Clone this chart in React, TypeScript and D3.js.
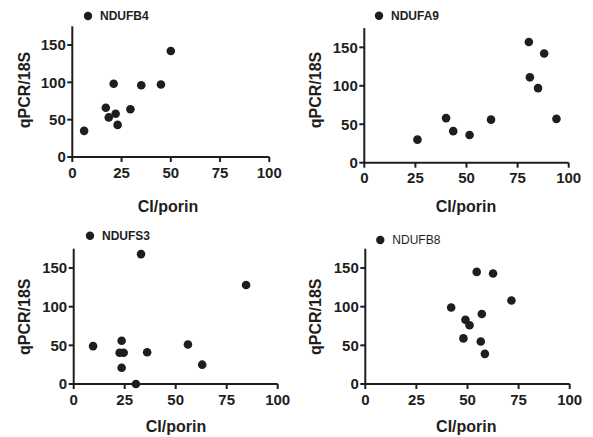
import React from "react";
import * as d3 from "d3";

const genes = ["NDUFB4", "NDUFA9", "NDUFS3", "NDUFB8"];

const ndufb4X = [6, 17, 18.5, 21, 22, 23, 29.5, 35, 45, 50];
const ndufb4Y = [35, 66, 53, 98, 58, 43, 64, 96, 97, 142];

const ndufa9X = [26, 40, 43.5, 51.5, 62, 80.5, 81, 85, 88, 94];
const ndufa9Y = [30, 58, 41, 36, 56, 157, 111, 97, 142, 57];

const ndufs3X = [9.5, 23.5, 22.5, 24.5, 23.5, 30.5, 33, 36, 56, 63, 84.5];
const ndufs3Y = [49, 56, 40.5, 40.5, 21, 0, 168, 41, 51, 25, 128];

const ndufb8X = [42, 48, 49, 51, 54.5, 56.5, 57, 58.5, 62.5, 71.5];
const ndufb8Y = [99, 59, 83, 76, 145, 55, 90.5, 39, 143, 108];

const xTicks = [0, 25, 50, 75, 100];
const yTicks = [0, 50, 100, 150];
const xDomain = [0, 100];
const yDomain = [0, 175];
const xTitle = "CI/porin";
const yTitle = "qPCR/18S";

const seriesX = [ndufb4X, ndufa9X, ndufs3X, ndufb8X];
const seriesY = [ndufb4Y, ndufa9Y, ndufs3Y, ndufb8Y];

// layout (pixel geometry of each panel)
const layouts = [
  { x0: 72.3, x1: 269.3, yb: 157, yt: 26.3, legX: 88, legY: 16, legW: "bold", ttlY: 211.5, ttlX: 168, yTtlX: 30, yTtlY: 90 },
  { x0: 364.3, x1: 568.7, yb: 162.7, yt: 28.1, legX: 379, legY: 15.7, legW: "bold", ttlY: 211.5, ttlX: 466, yTtlX: 321.3, yTtlY: 90 },
  { x0: 73.7, x1: 277.7, yb: 384, yt: 248.7, legX: 90, legY: 235.7, legW: "bold", ttlY: 431.5, ttlX: 176, yTtlX: 30, yTtlY: 316.7 },
  { x0: 365.3, x1: 569.7, yb: 384, yt: 248.7, legX: 380.3, legY: 240, legW: "normal", ttlY: 431.5, ttlX: 466.3, yTtlX: 321.3, yTtlY: 316.7 },
];

const ink = "#1e1e1e";
const font = "'Liberation Sans', Arial, Helvetica, sans-serif";

function Panel({ i }: { i: number }) {
  const L = layouts[i];
  const x = d3.scaleLinear().domain(xDomain).range([L.x0, L.x1]);
  const y = d3.scaleLinear().domain(yDomain).range([L.yb, L.yt]);
  const xs = seriesX[i];
  const ys = seriesY[i];
  return (
    <g>
      {/* legend */}
      <circle cx={L.legX} cy={L.legY} r={4.2} fill={ink} />
      <text x={L.legX + 12} y={L.legY + 4.3} fontSize={12} fontWeight={L.legW} fill={ink} fontFamily={font}>
        {genes[i]}
      </text>
      {/* axes */}
      <line x1={x(0)} x2={x(0)} y1={y(yDomain[1])} y2={y(0) + 1} stroke={ink} strokeWidth={2} />
      <line x1={x(0) - 1} x2={x(xDomain[1])} y1={y(0)} y2={y(0)} stroke={ink} strokeWidth={2} />
      {xTicks.map((t) => (
        <g key={"x" + t}>
          <line x1={x(t)} x2={x(t)} y1={y(0)} y2={y(0) + 5} stroke={ink} strokeWidth={2} />
          <text x={x(t)} y={y(0) + 20.5} textAnchor="middle" fontSize={15} fontWeight="bold" fill={ink} fontFamily={font}>
            {t}
          </text>
        </g>
      ))}
      {yTicks.map((t) => (
        <g key={"y" + t}>
          <line x1={x(0) - 5} x2={x(0)} y1={y(t)} y2={y(t)} stroke={ink} strokeWidth={2} />
          <text x={x(0) - 6.5} y={y(t)} dy="0.36em" textAnchor="end" fontSize={15} fontWeight="bold" fill={ink} fontFamily={font}>
            {t}
          </text>
        </g>
      ))}
      {/* titles */}
      <text x={L.ttlX} y={L.ttlY} textAnchor="middle" fontSize={16} fontWeight="bold" fill={ink} fontFamily={font}>
        {xTitle}
      </text>
      <text
        transform={`translate(${L.yTtlX},${L.yTtlY}) rotate(-90)`}
        textAnchor="middle"
        fontSize={16}
        fontWeight="bold"
        fill={ink}
        fontFamily={font}
      >
        {yTitle}
      </text>
      {/* points */}
      {xs.map((v, k) => (
        <circle key={k} cx={x(v)} cy={y(ys[k])} r={4.3} fill={ink} />
      ))}
    </g>
  );
}

export default function App() {
  return (
    <svg
      width={593}
      height={437}
      style={{ position: "absolute", left: 0, top: 0, background: "#fff" }}
    >
      <rect width={593} height={437} fill="#fff" />
      {genes.map((g, i) => (
        <Panel key={g} i={i} />
      ))}
    </svg>
  );
}
